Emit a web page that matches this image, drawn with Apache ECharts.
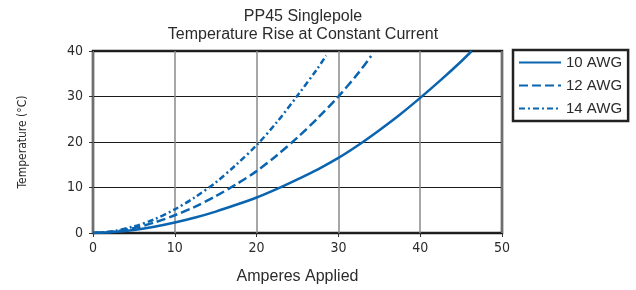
<!DOCTYPE html>
<html>
<head>
<meta charset="utf-8">
<script src="https://cdn.jsdelivr.net/npm/echarts@6/dist/echarts.min.js"></script>
<style>
html,body{margin:0;padding:0;background:#fff;}
#chart{width:636px;height:290px;}
</style>
</head>
<body>
<div id="chart"></div>
<script>
// 读图得到的数据点 [电流A, 温升°C]
var awg10 = [[0,0],[2.5,0.2],[5,0.68],[7.5,1.38],[10,2.3],[12.5,3.4],[15,4.7],[17.5,6.2],[20,7.8],[22.5,9.7],[25,11.8],[27.5,14],[30,16.5],[32.5,19.4],[35,22.6],[37.5,26],[40,29.7],[42.5,33.6],[45,37.7],[46.3,40]];
var awg12 = [[0,0],[2.5,0.3],[5,1.1],[7.5,2.3],[10,3.9],[12.5,5.8],[15,8.1],[17.5,10.7],[20,13.6],[22.5,17.1],[25,21],[27.5,25.3],[30,30],[32.5,35.3],[34,38.9]];
var awg14 = [[0,0],[2.5,0.4],[5,1.45],[7.5,3],[10,5.2],[12.5,7.9],[15,11.1],[17.5,15],[20,19.3],[22.5,24.4],[25,30.2],[27.5,36.3],[28.5,39]];
var seriesNames = ['10 AWG','12 AWG','14 AWG'];

var blue = '#0a64b0';
var narrow = '"DejaVu Sans Condensed","Liberation Sans",sans-serif';
var chart = echarts.init(document.getElementById('chart'));

function lineSeries(name, data, type){
	return {
		name:name,
		type:'line',
		data:data,
		smooth:0.3,
		symbol:'none',
		lineStyle:{color:blue,width:2.5,type:type},
		itemStyle:{color:blue}
	};
}

var option = {
		animation:false,
		title:{
				text:'PP45 Singlepole\nTemperature Rise at Constant Current',
				left:298,
				textAlign:'center',
				top:3,
				textStyle:{fontFamily:'Liberation Sans',fontSize:16,fontWeight:'normal',color:'#2b2b2b',lineHeight:18}
		},
		legend:{
				orient:'vertical',
				left:513,
				top:50,
				data:seriesNames,
				itemWidth:42,
				itemHeight:14,
				itemGap:8,
				padding:[5,6,5,5],
				borderColor:'#222',
				borderWidth:2.5,
				itemStyle:{opacity:0},
				textStyle:{fontFamily:'Liberation Sans',fontSize:15,color:'#2b2b2b'}
		},
		grid:{left:93,right:134,top:51,bottom:56,show:true,borderColor:'#222',borderWidth:2.5},
		xAxis:{
				type:'value',min:0,max:50,interval:10,
				name:'Amperes Applied',nameLocation:'middle',nameGap:36,
				nameTextStyle:{fontFamily:'Liberation Sans',fontSize:16,color:'#2b2b2b'},
				axisLine:{show:false},
				axisTick:{show:true,length:4,lineStyle:{color:'#333'}},
				axisLabel:{fontFamily:narrow,fontSize:14,color:'#2b2b2b',margin:8},
				splitLine:{show:true,lineStyle:{color:'#8a8a8a',width:1.5}}
		},
		yAxis:{
				type:'value',min:0,max:40,interval:10,
				name:'Temperature (°C)',nameLocation:'middle',nameGap:64,
				nameTextStyle:{fontFamily:narrow,fontSize:12,color:'#2b2b2b'},
				axisLine:{show:false},
				axisTick:{show:true,length:4,lineStyle:{color:'#333'}},
				axisLabel:{fontFamily:narrow,fontSize:14,color:'#2b2b2b',margin:10},
				splitLine:{show:true,lineStyle:{color:'#1a1a1a',width:1.2}}
		},
		series:[
				lineSeries(seriesNames[0], awg10, 'solid'),
				lineSeries(seriesNames[1], awg12, [9,4]),
				lineSeries(seriesNames[2], awg14, [6,3,2,3])
		]
};

chart.setOption(option);
</script>
</body>
</html>
